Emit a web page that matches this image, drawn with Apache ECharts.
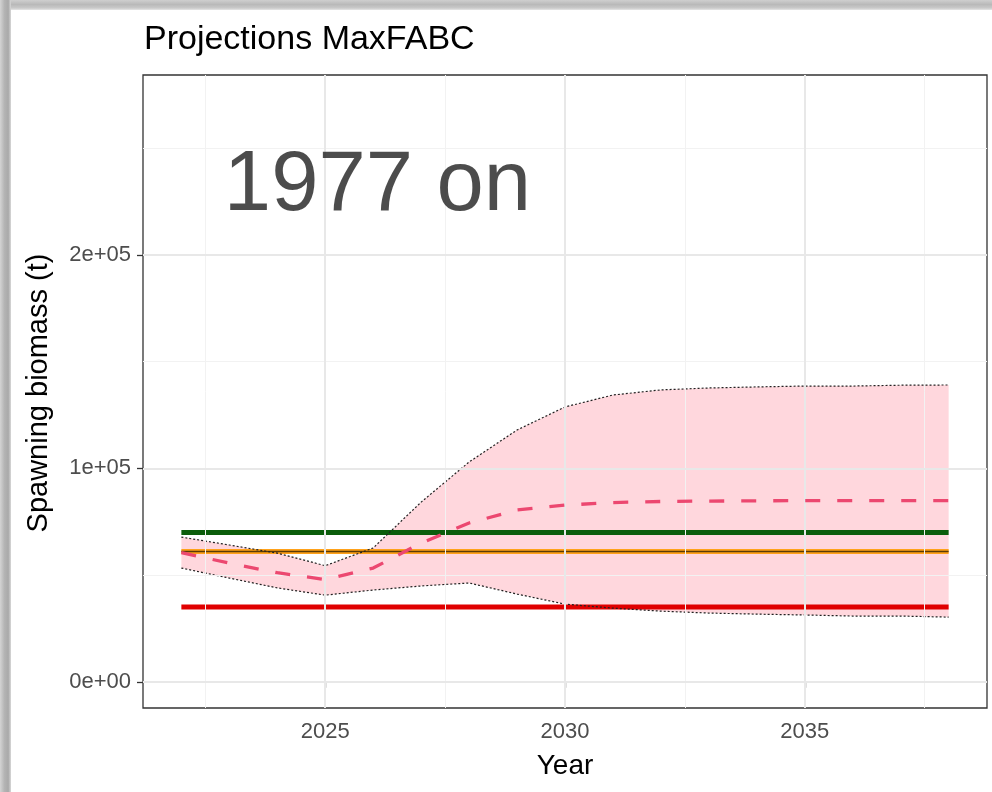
<!DOCTYPE html>
<html>
<head>
<meta charset="utf-8">
<script src="https://cdn.jsdelivr.net/npm/echarts@6/dist/echarts.min.js"></script>
<style>
  html, body { margin: 0; padding: 0; background: #ffffff; }
  #wrap { position: relative; width: 992px; height: 792px; overflow: hidden; background: #fff; }
  #chart { position: absolute; left: 0; top: 0; width: 992px; height: 792px; }
  .frameTop { position: absolute; left: 0; top: 0; width: 992px; height: 10px;
    background: linear-gradient(to bottom, #cfcfcf 0%, #b9b9b9 45%, #c9c9c9 80%, #e6e6e6 100%); pointer-events: none; }
  .frameLeft { position: absolute; left: 0; top: 0; width: 11px; height: 792px;
    background: linear-gradient(to right, #d4d4d4 0%, #b4b4b4 40%, #a9a9a9 75%, #d8d8d8 100%); pointer-events: none; }
</style>
</head>
<body>
<div id="wrap">
  <div id="chart"></div>
  <div class="frameTop"></div>
  <div class="frameLeft"></div>
</div>
<script>
// ---- data ----
const years   = [2022, 2023, 2024, 2025, 2026, 2027, 2028, 2029, 2030, 2031, 2032, 2033, 2034, 2035, 2036, 2037, 2038];
const median  = [60500, 55600, 51100, 47900, 53300, 65000, 74400, 80500, 82800, 84000, 84500, 84700, 84800, 84900, 84900, 84900, 84900];
const upper   = [67800, 64100, 60300, 54400, 62700, 84200, 103000, 118000, 128800, 134400, 136800, 137700, 138200, 138600, 138600, 139000, 139100];
const lower   = [53300, 48600, 44000, 40600, 43000, 44900, 46300, 41100, 36400, 34500, 33100, 32200, 31700, 31300, 30800, 30800, 30300];
const refTarget = 70000;   // green
const refMid    = 61000;   // orange
const refLimit  = 35000;   // red
const xTicks = [2025, 2030, 2035];
const xTickLabels = ['2025', '2030', '2035'];
const xMinor = [2022.5, 2027.5, 2032.5, 2037.5];
const yTicks = [0, 100000, 200000];
const yTickLabels = ['0e+00', '1e+05', '2e+05'];
const yMinor = [50000, 150000, 250000];
const annotationText = '1977 on';
const annotationPos = [2026.09, 231900];
const titleText = 'Projections MaxFABC';
const xTitle = 'Year';
const yTitle = 'Spawning biomass (t)';

// ---- build ----
const FONT = '"Liberation Sans", Arial, Helvetica, sans-serif';
const pair = (xs, ys) => xs.map((x, i) => [x, ys[i]]);
const flat = v => [[years[0], v], [years[years.length - 1], v]];

const chart = echarts.init(document.getElementById('chart'), null, { renderer: 'canvas' });

const gridLines = []
  .concat(xMinor.map(v => ({ xAxis: v, lineStyle: { color: '#F2F2F2', width: 1, type: 'solid' } })))
  .concat(yMinor.map(v => ({ yAxis: v, lineStyle: { color: '#F2F2F2', width: 1, type: 'solid' } })))
  .concat(xTicks.map(v => ({ xAxis: v, lineStyle: { color: '#E8E8E8', width: 2, type: 'solid' } })))
  .concat(yTicks.map(v => ({ yAxis: v, lineStyle: { color: '#E8E8E8', width: 2, type: 'solid' } })));

function renderBand(params, api) {
  if (params.dataIndex !== 0) return null;
  const pts = [];
  for (let i = 0; i < years.length; i++) pts.push(api.coord([years[i], upper[i]]));
  for (let i = years.length - 1; i >= 0; i--) pts.push(api.coord([years[i], lower[i]]));
  return { type: 'polygon', shape: { points: pts }, style: { fill: 'rgba(255,182,193,0.55)' } };
}

const option = {
  backgroundColor: 'transparent',
  animation: false,
  grid: { left: 143, right: 5, top: 75, bottom: 84, show: true, borderColor: '#333333', borderWidth: 1.3, backgroundColor: 'transparent' },
  xAxis: {
    type: 'value', min: 2021.2, max: 2038.8,
    axisLine: { show: false },
    splitLine: { show: false },
    axisTick: { show: true, customValues: xTicks, length: 6, lineStyle: { color: '#333333', width: 1.3 } },
    axisLabel: { show: true, customValues: xTicks, margin: 13, fontSize: 22, fontFamily: FONT, color: '#4D4D4D',
      formatter: v => xTickLabels[xTicks.indexOf(Math.round(v))] }
  },
  yAxis: {
    type: 'value', min: -12300, max: 284400,
    axisLine: { show: false },
    splitLine: { show: false },
    axisTick: { show: true, customValues: yTicks, length: 6, lineStyle: { color: '#333333', width: 1.3 } },
    axisLabel: { show: true, customValues: yTicks, margin: 12, fontSize: 22, fontFamily: FONT, color: '#4D4D4D',
      formatter: v => yTickLabels[yTicks.indexOf(Math.round(v))] }
  },
  graphic: [
    { type: 'text', left: 144, top: 23, style: { text: titleText, fontSize: 34, fontFamily: FONT, fill: '#000000' } },
    { type: 'text', x: 565, y: 766, style: { text: xTitle, fontSize: 28, fontFamily: FONT, fill: '#000000', align: 'center', verticalAlign: 'middle' } },
    { type: 'text', x: 39, y: 393, rotation: Math.PI / 2, style: { text: yTitle, fontSize: 29, fontFamily: FONT, fill: '#000000', align: 'center', verticalAlign: 'middle' } }
  ],
  series: [
    { name: 'grid', type: 'line', data: [[2021.2, -12300]], symbol: 'none', lineStyle: { width: 0, opacity: 0 }, z: 0, silent: true,
      markLine: { silent: true, symbol: ['none', 'none'], label: { show: false }, animation: false, data: gridLines } },
    { name: 'band', type: 'custom', data: pair(years, upper), renderItem: renderBand, z: 1, silent: true },
    { name: 'target', type: 'line', data: flat(refTarget), symbol: 'none', lineStyle: { color: '#0B5D0B', width: 5 }, z: 3 },
    { name: 'midOrange', type: 'line', data: flat(refMid), symbol: 'none', lineStyle: { color: '#FFA21A', width: 5 }, z: 3 },
    { name: 'midDark', type: 'line', data: flat(refMid), symbol: 'none', lineStyle: { color: '#5A3A05', width: 1.5 }, z: 3 },
    { name: 'limit', type: 'line', data: flat(refLimit), symbol: 'none', lineStyle: { color: '#E00000', width: 5 }, z: 3 },
    { name: 'upper', type: 'line', data: pair(years, upper), symbol: 'none', lineStyle: { color: '#222222', width: 1.2, type: [2, 2] }, z: 4 },
    { name: 'lower', type: 'line', data: pair(years, lower), symbol: 'none', lineStyle: { color: '#222222', width: 1.2, type: [2, 2] }, z: 4 },
    { name: 'median', type: 'line', data: pair(years, median), symbol: 'none', lineStyle: { color: '#EC4870', width: 3.3, type: [15, 17] }, z: 5 },
    { name: 'annot', type: 'scatter', data: [annotationPos], symbolSize: 0, z: 6, silent: true,
      label: { show: true, position: 'inside', formatter: annotationText, fontSize: 85, fontFamily: FONT, color: '#1F1F1F' } }
  ]
};
chart.setOption(option);
</script>
</body>
</html>
